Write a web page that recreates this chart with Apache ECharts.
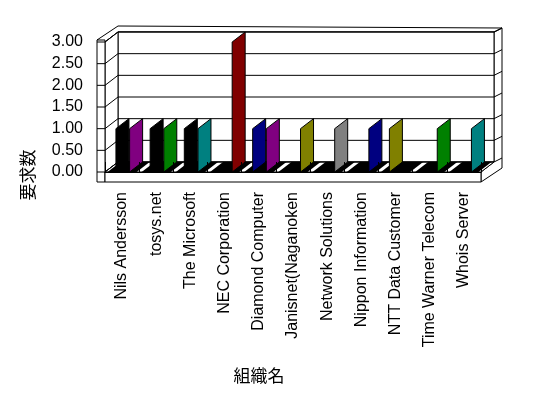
<!DOCTYPE html>
<html>
<head>
<meta charset="utf-8">
<script src="https://cdn.jsdelivr.net/npm/echarts@6/dist/echarts.min.js"></script>
<style>
html, body { margin: 0; padding: 0; background: #fff; }
#main { width: 548px; height: 398px; }
</style>
</head>
<body>
<div id="main"></div>
<script>
// categories (組織名)
var categories = ['Nils Andersson', 'tosys.net', 'The Microsoft', 'NEC Corporation', 'Diamond Computer',
	'Janisnet(Naganoken', 'Network Solutions', 'Nippon Information', 'NTT Data Customer',
	'Time Warner Telecom', 'Whois Server'];
// front slot / back slot of each cluster (要求数)
var valuesA = [1, 1, 1, 0, 1, 0, 0, 0, 1, 0, 0];
var valuesB = [1, 1, 1, 3, 1, 1, 1, 1, 0, 1, 1];
var yTicks = [0, 0.5, 1, 1.5, 2, 2.5, 3];

// styles
var colorsA = ['#000000', '#000000', '#000000', '#000000', '#000080', '#000000', '#000000', '#000000', '#808000', '#000000', '#000000'];
var colorsB = ['#800080', '#008000', '#008080', '#800000', '#800080', '#808000', '#808080', '#000080', '#808000', '#008000', '#008080'];
var D = [13, -10];   // depth of the box
var T = [8, -4];     // back wall thickness
var WALL = 8;        // left wall thickness
var BASE = 10;       // floor thickness

var line = function (p1, p2) {
	return {type: 'line', shape: {x1: p1[0], y1: p1[1], x2: p2[0], y2: p2[1]}, style: {stroke: '#000', lineWidth: 1}};
};
var poly = function (pts, fill) {
	return {type: 'polygon', shape: {points: pts}, style: {fill: fill, stroke: '#000', lineWidth: 1}};
};

function renderBox(params, api) {
	var cs = params.coordSys;
	var x0 = cs.x, x1 = cs.x + cs.width;
	var yb = api.coord([0, 0])[1];
	var yt = api.coord([0, 3])[1];
	var xL = x0 - WALL;
	var kids = [];
	// right outer face
	kids.push(poly([[x1, yb], [x1, yb + BASE], [x1 + D[0] + T[0], yb + BASE + D[1] + T[1]],
		[x1 + D[0] + T[0], yt + D[1] + T[1]], [x1 + D[0], yt + D[1]], [x1 + D[0], yb + D[1]]], '#fff'));
	// top cap
	kids.push(poly([[xL, yt - 2], [xL + D[0] + T[0], yt - 2 + D[1] + T[1]], [x1 + D[0] + T[0], yt + D[1] + T[1]],
		[x1 + D[0], yt + D[1]], [x0 + D[0], yt + D[1]], [x0, yt]], '#fff'));
	// back wall
	kids.push(poly([[x0 + D[0], yt + D[1]], [x1 + D[0], yt + D[1]], [x1 + D[0], yb + D[1]], [x0 + D[0], yb + D[1]]], '#fff'));
	// left wall inner face
	kids.push(poly([[x0, yt], [x0 + D[0], yt + D[1]], [x0 + D[0], yb + D[1]], [x0, yb]], '#fff'));
	// left wall front edge
	kids.push(poly([[xL, yt - 2], [x0, yt - 2], [x0, yb + BASE], [xL, yb + BASE]], '#fff'));
	// floor front
	kids.push(poly([[x0, yb], [x1, yb], [x1, yb + BASE], [x0, yb + BASE]], '#fff'));
	// floor top
	kids.push(poly([[x0, yb], [x1, yb], [x1 + D[0], yb + D[1]], [x0 + D[0], yb + D[1]]], '#fff'));
	for (var k = 0; k < yTicks.length; k++) {
		var y = api.coord([0, yTicks[k]])[1];
		kids.push(line([x0 + D[0], y + D[1]], [x1 + D[0], y + D[1]]));
		kids.push(line([x0, y], [x0 + D[0], y + D[1]]));
		kids.push(line([xL, y], [x0, y]));
		kids.push(line([x1 + D[0], y + D[1]], [x1 + D[0] + T[0], y + D[1] + T[1]]));
	}
	// dark footprint of each cluster on the floor
	var w = api.size([1, 0])[0];
	for (var i = 0; i < categories.length; i++) {
		var c = api.coord([i, 0]);
		var a = c[0] - w / 2 + 2.5, b = c[0] + w / 2 - 2.5;
		kids.push({type: 'polygon', shape: {points: [[a, yb], [b, yb], [b + D[0], yb + D[1]], [a + D[0], yb + D[1]]]},
			style: {fill: '#000'}});
	}
	return {type: 'group', children: kids};
}

function bar3d(offset, colors) {
	return function (params, api) {
		var val = api.value(1);
		if (!val) return null;
		var base = api.coord([api.value(0), 0]);
		var top = api.coord([api.value(0), val]);
		var w = api.size([1, 0])[0];
		var x = base[0] - w / 2 + w * offset;
		return {
			type: 'polygon',
			shape: {points: [[x, base[1]], [x + D[0], base[1] + D[1]], [x + D[0], top[1] + D[1]], [x, top[1]]]},
			style: {fill: colors[params.dataIndex], stroke: '#000', lineWidth: 1}
		};
	};
}

var dataA = valuesA.map(function (v, i) { return [i, v]; });
var dataB = valuesB.map(function (v, i) { return [i, v]; });

var chart = echarts.init(document.getElementById('main'), null, {renderer: 'canvas'});
chart.setOption({
	backgroundColor: '#fff',
	animation: false,
	grid: {left: 105, top: 42, width: 376, height: 130},
	xAxis: {
		type: 'category',
		data: categories,
		offset: BASE,
		z: 10,
		axisLine: {show: true, lineStyle: {color: '#000', width: 1}},
		axisTick: {show: true, inside: true, length: BASE, lineStyle: {color: '#000'}},
		axisLabel: {rotate: 90, interval: 0, margin: 10, color: '#000', fontFamily: 'Liberation Sans', fontSize: 16},
		splitLine: {show: false}
	},
	yAxis: {
		type: 'value',
		min: 0,
		max: 3,
		interval: 0.5,
		axisLine: {show: false},
		axisTick: {show: false},
		splitLine: {show: false},
		axisLabel: {
			margin: 22, color: '#000', fontFamily: 'Liberation Sans', fontSize: 16,
			formatter: function (v) { return v.toFixed(2); }
		}
	},
	graphic: [
		{type: 'text', x: 259, y: 376, style: {text: '組織名', fill: '#000', font: '17px "Noto Sans CJK JP"', textAlign: 'center', textVerticalAlign: 'middle'}},
		{type: 'text', x: 28, y: 175, rotation: Math.PI / 2, style: {text: '要求数', fill: '#000', font: '17px "Noto Sans CJK JP"', textAlign: 'center', textVerticalAlign: 'middle'}}
	],
	series: [
		{type: 'custom', z: 1, silent: true, renderItem: renderBox, data: [[0, 0]]},
		{type: 'custom', z: 2, renderItem: bar3d(0.32, colorsA), data: dataA},
		{type: 'custom', z: 3, renderItem: bar3d(0.72, colorsB), data: dataB}
	]
});
</script>
</body>
</html>
